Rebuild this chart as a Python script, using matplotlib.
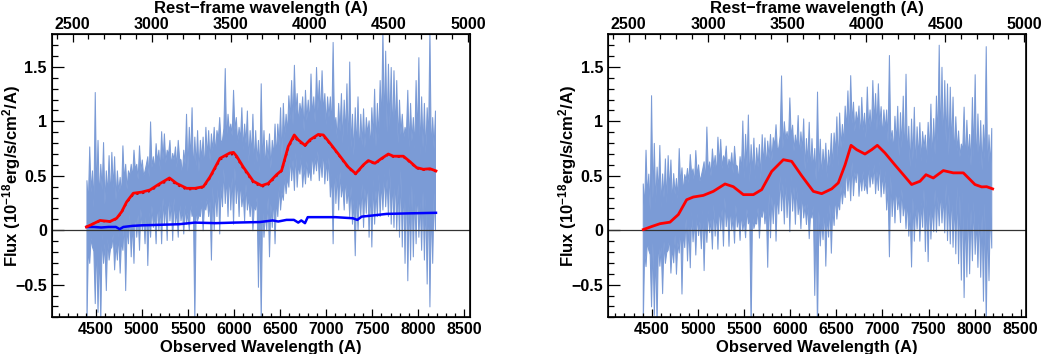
import numpy as np
import matplotlib
matplotlib.use('Agg')
import matplotlib.pyplot as plt
from matplotlib.ticker import MultipleLocator, FuncFormatter

plt.rcParams['font.family'] = ['Liberation Sans', 'DejaVu Sans']
plt.rcParams['font.weight'] = 'bold'
plt.rcParams['mathtext.fontset'] = 'custom'
plt.rcParams['mathtext.rm'] = 'Liberation Sans:bold'
plt.rcParams['mathtext.it'] = 'Liberation Sans:bold'
plt.rcParams['mathtext.bf'] = 'Liberation Sans:bold'
plt.rcParams['mathtext.default'] = 'rm'

# ---------------- data ----------------
wave = np.arange(4400, 8181, 30)        # observed wavelength grid (A), spike positions
wave_mid = np.arange(4415, 8166, 30)    # positions between spikes

# upper edge of the spectrum band: spike tops (on wave) and troughs between them (on wave_mid)
spec_hi = [0.46, 0.77, 0.55, 1.27, 0.83, 0.61, 0.81, 0.55, 0.69, 0.72, 0.68, 0.55, 0.49, 0.78, 0.61,
           0.55, 0.61, 0.74, 0.61, 0.78, 0.65, 0.55, 0.68, 1.00, 0.68, 0.80, 0.74, 0.91, 0.89, 0.74,
           0.83, 0.71, 0.77, 0.83, 0.65, 0.74, 1.07, 0.95, 1.13, 0.86, 0.92, 0.83, 0.86, 0.95, 0.92,
           0.89, 0.95, 0.92, 1.04, 0.83, 1.49, 1.07, 0.98, 1.29, 1.04, 0.95, 1.13, 0.98, 1.10, 0.92,
           1.07, 0.92, 0.83, 1.35, 0.92, 0.83, 0.89, 0.83, 0.98, 0.98, 1.13, 1.17, 1.07, 1.24, 1.38,
           1.52, 1.26, 1.17, 1.23, 1.29, 1.20, 1.44, 1.23, 1.50, 1.38, 1.47, 1.26, 1.23,
           1.23, 1.73, 1.04, 1.17, 1.26, 1.20, 1.35, 1.55, 1.07, 1.13, 1.23, 1.07, 1.12, 1.04, 1.01,
           1.13, 1.30, 1.17, 1.38, 1.85, 1.65, 1.53, 1.50, 1.47, 1.38, 1.20, 1.07, 0.95, 1.29, 1.17,
           1.04, 1.38, 1.59, 1.23, 1.17, 1.13, 1.85, 1.04, 1.10]
spec_hi_mid = [0.24, 0.35, 0.21, 0.32, 0.27, 0.37, 0.24, 0.33, 0.28, 0.39, 0.28, 0.35, 0.31, 0.46, 0.38,
               0.50, 0.48, 0.56, 0.47, 0.55, 0.50, 0.61, 0.49, 0.58, 0.55, 0.63, 0.55, 0.65, 0.62, 0.70,
               0.59, 0.65, 0.58, 0.66, 0.51, 0.61, 0.54, 0.64, 0.51, 0.59, 0.54, 0.65, 0.54, 0.67, 0.64,
               0.73, 0.70, 0.84, 0.81, 0.94, 0.82, 0.91, 0.87, 0.92, 0.80, 0.83, 0.74, 0.80, 0.63, 0.69,
               0.60, 0.63, 0.53, 0.61, 0.57, 0.65, 0.57, 0.68, 0.66, 0.78, 0.67, 0.85, 0.89, 1.02, 0.97,
               1.07, 0.98, 1.07, 0.91, 1.01, 0.97, 1.05, 0.99, 1.10, 1.04, 1.08, 0.97, 1.04,
               0.93, 0.95, 0.84, 0.91, 0.80, 0.87, 0.71, 0.76, 0.69, 0.74, 0.67, 0.78, 0.76, 0.89, 0.75,
               0.84, 0.77, 0.84, 0.96, 0.93, 0.90, 0.95, 0.84, 0.90, 0.80, 0.88, 0.83, 0.89, 0.76, 0.82,
               0.75, 0.83, 0.69, 0.76, 0.71, 0.82, 0.68, 0.75]

# lower edge of the spectrum band
spec_lo = [-0.85, -0.30, -0.15, -0.67, -0.75, -0.85, -0.30, -0.55, -0.27, -0.15, -0.36, -0.27, -0.39, -0.18, -0.55,
           -0.12, -0.24, -0.30, -0.06, -0.18, 0.00, -0.12, -0.32, -0.06, 0.03, -0.12, 0.00, -0.12, 0.06, -0.09,
           0.09, -0.09, 0.06, -0.06, 0.09, -0.03, 0.06, 0.00, 0.13, -0.85, 0.09, 0.13, 0.00, 0.19, 0.13,
           -0.27, 0.00, 0.13, -0.03, 0.22, 0.25, 0.13, 0.19, 0.06, 0.25, 0.13, 0.22, 0.09, 0.19, 0.13,
           0.00, 0.19, -0.52, -0.85, -0.06, 0.00, -0.24, 0.03, -0.12, 0.13, 0.19, 0.28, 0.34, 0.40, 0.46,
           0.37, 0.40, 0.52, 0.40, 0.43, 0.49, 0.46, 0.52, 0.55, 0.46, 0.49, 0.43, 0.46,
           0.31, -0.12, 0.25, 0.19, 0.31, 0.19, 0.25, 0.13, 0.06, -0.23, 0.00, 0.13, 0.03, 0.16, -0.06,
           -0.15, 0.06, 0.13, 0.13, 0.19, 0.22, 0.13, 0.06, 0.03, 0.00, -0.06, -0.15, -0.30, -0.46, -0.27,
           -0.24, -0.12, -0.06, -0.18, -0.27, -0.49, -0.70, -0.30, 0.00]
spec_lo_mid = [-0.16, -0.07, -0.19, -0.08, -0.14, -0.03, -0.12, -0.07, -0.17, -0.03, -0.12, -0.02, -0.09, 0.09, 0.04,
               0.15, 0.08, 0.22, 0.145, 0.20, 0.13, 0.24, 0.17, 0.23, 0.15, 0.29, 0.23, 0.30, 0.25, 0.36,
               0.27, 0.30, 0.18, 0.29, 0.19, 0.235, 0.165, 0.265, 0.185, 0.235, 0.14, 0.28, 0.22, 0.30, 0.27,
               0.41, 0.38, 0.47, 0.41, 0.57, 0.50, 0.56, 0.495, 0.58, 0.475, 0.48, 0.34, 0.43, 0.31, 0.32,
               0.225, 0.305, 0.21, 0.26, 0.17, 0.31, 0.25, 0.33, 0.29, 0.41, 0.35, 0.50, 0.49, 0.68, 0.65,
               0.72, 0.61, 0.70, 0.59, 0.64, 0.57, 0.73, 0.67, 0.73, 0.665, 0.755, 0.65, 0.67,
               0.53, 0.63, 0.52, 0.54, 0.43, 0.50, 0.39, 0.41, 0.285, 0.40, 0.35, 0.43, 0.39, 0.515, 0.43,
               0.47, 0.37, 0.52, 0.46, 0.53, 0.475, 0.58, 0.485, 0.53, 0.43, 0.56, 0.48, 0.515, 0.34, 0.42,
               0.35, 0.425, 0.265, 0.36, 0.31, 0.415, 0.26, 0.35]

# total model (left panel), solid and dotted
model_wl = [4400, 4475, 4547, 4655, 4728, 4782, 4836, 4908, 4999, 5089, 5180, 5300, 5378, 5487, 5577,
            5668, 5740, 5848, 5956, 5995, 6029, 6101, 6209, 6300, 6372, 6462, 6517, 6589, 6654, 6697,
            6770, 6824, 6914, 6969, 7041, 7150, 7240, 7320, 7403, 7457, 7529, 7602, 7674, 7728, 7837,
            7909, 7981, 8054, 8126, 8191]
model_f = [0.03, 0.06, 0.09, 0.08, 0.11, 0.17, 0.26, 0.34, 0.35, 0.37, 0.42, 0.48, 0.43, 0.385, 0.385,
           0.40, 0.49, 0.66, 0.71, 0.715, 0.68, 0.58, 0.45, 0.41, 0.43, 0.51, 0.55, 0.77, 0.875, 0.83,
           0.78, 0.83, 0.88, 0.875, 0.80, 0.68, 0.58, 0.52, 0.60, 0.64, 0.615, 0.66, 0.70, 0.68, 0.68,
           0.63, 0.575, 0.56, 0.565, 0.545]
model_dot_f = [0.03, 0.06, 0.085, 0.08, 0.105, 0.165, 0.255, 0.33, 0.34, 0.36, 0.41, 0.465, 0.42, 0.375, 0.38,
               0.395, 0.48, 0.65, 0.695, 0.70, 0.67, 0.57, 0.44, 0.40, 0.42, 0.50, 0.545, 0.76, 0.86, 0.82,
               0.775, 0.82, 0.87, 0.865, 0.795, 0.675, 0.575, 0.515, 0.595, 0.635, 0.61, 0.655, 0.695, 0.675, 0.675,
               0.625, 0.57, 0.555, 0.56, 0.54]

# host / second component (blue, left panel)
host_wl = [4400, 4480, 4560, 4640, 4720, 4760, 4800, 4900, 5000, 5200, 5400, 5577, 5800, 6000, 6280, 6420,
           6480, 6570, 6650, 6697, 6730, 6770, 6800, 6900, 7100, 7290, 7338, 7385, 7500, 7656, 7900, 8191]
host_f = [0.03, 0.03, 0.025, 0.03, 0.03, 0.01, 0.03, 0.04, 0.045, 0.05, 0.055, 0.07, 0.065, 0.07, 0.075, 0.09,
          0.08, 0.095, 0.095, 0.07, 0.09, 0.065, 0.12, 0.12, 0.12, 0.11, 0.095, 0.125, 0.135, 0.15, 0.155, 0.16]

# model for the host-subtracted spectrum (right panel)
model2_wl = [4406, 4500, 4587, 4695, 4786, 4876, 4948, 5057, 5165, 5292, 5382, 5491, 5600, 5690, 5798,
             5925, 6015, 6124, 6250, 6341, 6449, 6521, 6594, 6659, 6720, 6810, 6883, 6944, 7027, 7135,
             7226, 7316, 7407, 7472, 7551, 7660, 7768, 7877, 8003, 8076, 8130, 8195]
model2_f = [0.006, 0.035, 0.06, 0.074, 0.144, 0.28, 0.305, 0.32, 0.357, 0.425, 0.40, 0.327, 0.327, 0.373, 0.54,
            0.648, 0.633, 0.50, 0.357, 0.336, 0.38, 0.435, 0.60, 0.78, 0.74, 0.70, 0.74, 0.78, 0.71, 0.60,
            0.51, 0.42, 0.45, 0.51, 0.48, 0.548, 0.527, 0.527, 0.42, 0.398, 0.40, 0.38]

obs_ticks = [4500, 5000, 5500, 6000, 6500, 7000, 7500, 8000, 8500]
rest_ticks = [2500, 3000, 3500, 4000, 4500, 5000]
y_ticks = [-0.5, 0, 0.5, 1, 1.5]

# interleave spike and trough vertices into one band outline
n = len(wave) + len(wave_mid)
x_all = np.empty(n)
up_all = np.empty(n)
lo_all = np.empty(n)
x_all[0::2], x_all[1::2] = wave, wave_mid
up_all[0::2], up_all[1::2] = spec_hi, spec_hi_mid
lo_all[0::2], lo_all[1::2] = spec_lo, spec_lo_mid

# right panel: same spectrum with the blue component removed
host_on_grid = np.interp(x_all, host_wl, host_f)
up_sub = up_all - host_on_grid
lo_sub = lo_all - host_on_grid

# ---------------- figure ----------------
W, H = 1043, 354
fig = plt.figure(figsize=(W / 100, H / 100), dpi=100)

FILL = '#7b9bd6'
XLIM = (4023, 8560)
RLIM = (2368.5, 5012.6)
YLIM = (-0.8, 1.8)
TICKFS = 11.5
TITLEFS = 12

AX_L, AX_R, AX_T, AX_B = 51.7, 470.0, 34.3, 317.3


def yfmt(v, pos):
    s = f'{v:g}'
    return s.replace('-', '\u2212')


def make_panel(x0px, lo, hi, show_host, mwl, mf, mdot=None):
    ax = fig.add_axes([x0px / W, (H - AX_B) / H, (AX_R - AX_L) / W, (AX_B - AX_T) / H])
    ax.fill_between(x_all, lo, hi, color=FILL, lw=0.75, edgecolor=FILL, zorder=1)
    ax.axhline(0, color='#333333', lw=0.9, zorder=2)
    if show_host:
        ax.plot(host_wl, host_f, color='#0000ff', lw=1.8, zorder=3)
    if mdot is not None:
        ax.plot(mwl, mdot, color='#c00000', lw=1.6, ls=':', zorder=3)
    ax.plot(mwl, mf, color='#ff0000', lw=2.0, zorder=4)
    ax.set_xlim(*XLIM)
    ax.set_ylim(*YLIM)
    ax.set_xticks(obs_ticks)
    ax.xaxis.set_minor_locator(MultipleLocator(100))
    ax.set_yticks(y_ticks)
    ax.yaxis.set_minor_locator(MultipleLocator(0.1))
    ax.yaxis.set_major_formatter(FuncFormatter(yfmt))
    ax.tick_params(axis='x', which='both', direction='in', top=False, bottom=True,
                   labelsize=TICKFS, pad=3.2, width=0.9)
    ax.tick_params(axis='x', which='major', length=5.5)
    ax.tick_params(axis='x', which='minor', length=3)
    ax.tick_params(axis='y', which='both', direction='in', left=True, right=False,
                   labelsize=TICKFS, pad=3.5, width=0.9)
    ax.tick_params(axis='y', which='major', length=8.5)
    ax.tick_params(axis='y', which='minor', length=4.2)
    for sp in ax.spines.values():
        sp.set_linewidth(1.2)
    for lab in ax.get_xticklabels() + ax.get_yticklabels():
        lab.set_fontweight('bold')

    ax2 = ax.twiny()
    ax2.set_xlim(*RLIM)
    ax2.set_xticks(rest_ticks)
    ax2.xaxis.set_minor_locator(MultipleLocator(100))
    ax2.tick_params(axis='x', which='both', direction='in', top=True, bottom=False,
                    labelsize=TICKFS, pad=1.5, width=0.9)
    ax2.tick_params(axis='x', which='major', length=6)
    ax2.tick_params(axis='x', which='minor', length=3.5)
    for lab in ax2.get_xticklabels():
        lab.set_fontweight('bold')

    cx = (x0px + (AX_R - AX_L) / 2) / W
    fig.text(cx, 1 - 12.8 / H, 'Rest\u2212frame wavelength (A)', ha='center', va='baseline',
             fontsize=TITLEFS, fontweight='bold')
    fig.text(cx, 2.0 / H, 'Observed Wavelength (A)', ha='center', va='baseline',
             fontsize=TITLEFS, fontweight='bold')
    fig.text((x0px - 40.5) / W, (H - (AX_T + AX_B) / 2) / H,
             'Flux (10$^{-18}$erg/s/cm$^{2}$/A)', rotation=90, ha='center', va='center',
             fontsize=TITLEFS, fontweight='bold')
    return ax


make_panel(AX_L, lo_all, up_all, True, model_wl, model_f, model_dot_f)
make_panel(608.0, lo_sub, up_sub, False, model2_wl, model2_f)

fig.savefig('out.png', dpi=100)
